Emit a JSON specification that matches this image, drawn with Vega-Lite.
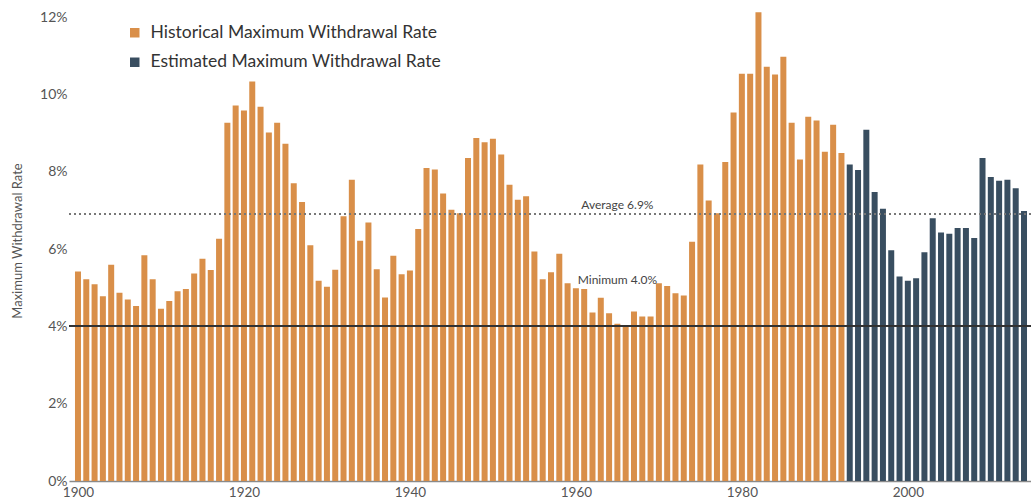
{
  "$schema": "https://vega.github.io/schema/vega-lite/v6.json",
  "width": 962,
  "height": 481,
  "autosize": {"type": "none"},
  "padding": {"left": 69, "top": 0, "right": 0, "bottom": 21},
  "background": "white",
  "config": {
    "view": {"stroke": null},
    "font": "Lato"
  },
  "data": {
    "values": [
      {"year": 1900, "rate": 5.42, "type": "Historical Maximum Withdrawal Rate"},
      {"year": 1901, "rate": 5.22, "type": "Historical Maximum Withdrawal Rate"},
      {"year": 1902, "rate": 5.09, "type": "Historical Maximum Withdrawal Rate"},
      {"year": 1903, "rate": 4.78, "type": "Historical Maximum Withdrawal Rate"},
      {"year": 1904, "rate": 5.60, "type": "Historical Maximum Withdrawal Rate"},
      {"year": 1905, "rate": 4.87, "type": "Historical Maximum Withdrawal Rate"},
      {"year": 1906, "rate": 4.70, "type": "Historical Maximum Withdrawal Rate"},
      {"year": 1907, "rate": 4.53, "type": "Historical Maximum Withdrawal Rate"},
      {"year": 1908, "rate": 5.84, "type": "Historical Maximum Withdrawal Rate"},
      {"year": 1909, "rate": 5.22, "type": "Historical Maximum Withdrawal Rate"},
      {"year": 1910, "rate": 4.46, "type": "Historical Maximum Withdrawal Rate"},
      {"year": 1911, "rate": 4.66, "type": "Historical Maximum Withdrawal Rate"},
      {"year": 1912, "rate": 4.91, "type": "Historical Maximum Withdrawal Rate"},
      {"year": 1913, "rate": 4.97, "type": "Historical Maximum Withdrawal Rate"},
      {"year": 1914, "rate": 5.37, "type": "Historical Maximum Withdrawal Rate"},
      {"year": 1915, "rate": 5.75, "type": "Historical Maximum Withdrawal Rate"},
      {"year": 1916, "rate": 5.46, "type": "Historical Maximum Withdrawal Rate"},
      {"year": 1917, "rate": 6.27, "type": "Historical Maximum Withdrawal Rate"},
      {"year": 1918, "rate": 9.27, "type": "Historical Maximum Withdrawal Rate"},
      {"year": 1919, "rate": 9.72, "type": "Historical Maximum Withdrawal Rate"},
      {"year": 1920, "rate": 9.59, "type": "Historical Maximum Withdrawal Rate"},
      {"year": 1921, "rate": 10.34, "type": "Historical Maximum Withdrawal Rate"},
      {"year": 1922, "rate": 9.69, "type": "Historical Maximum Withdrawal Rate"},
      {"year": 1923, "rate": 9.02, "type": "Historical Maximum Withdrawal Rate"},
      {"year": 1924, "rate": 9.27, "type": "Historical Maximum Withdrawal Rate"},
      {"year": 1925, "rate": 8.73, "type": "Historical Maximum Withdrawal Rate"},
      {"year": 1926, "rate": 7.71, "type": "Historical Maximum Withdrawal Rate"},
      {"year": 1927, "rate": 7.22, "type": "Historical Maximum Withdrawal Rate"},
      {"year": 1928, "rate": 6.10, "type": "Historical Maximum Withdrawal Rate"},
      {"year": 1929, "rate": 5.18, "type": "Historical Maximum Withdrawal Rate"},
      {"year": 1930, "rate": 5.03, "type": "Historical Maximum Withdrawal Rate"},
      {"year": 1931, "rate": 5.47, "type": "Historical Maximum Withdrawal Rate"},
      {"year": 1932, "rate": 6.85, "type": "Historical Maximum Withdrawal Rate"},
      {"year": 1933, "rate": 7.80, "type": "Historical Maximum Withdrawal Rate"},
      {"year": 1934, "rate": 6.22, "type": "Historical Maximum Withdrawal Rate"},
      {"year": 1935, "rate": 6.69, "type": "Historical Maximum Withdrawal Rate"},
      {"year": 1936, "rate": 5.48, "type": "Historical Maximum Withdrawal Rate"},
      {"year": 1937, "rate": 4.75, "type": "Historical Maximum Withdrawal Rate"},
      {"year": 1938, "rate": 5.83, "type": "Historical Maximum Withdrawal Rate"},
      {"year": 1939, "rate": 5.35, "type": "Historical Maximum Withdrawal Rate"},
      {"year": 1940, "rate": 5.45, "type": "Historical Maximum Withdrawal Rate"},
      {"year": 1941, "rate": 6.52, "type": "Historical Maximum Withdrawal Rate"},
      {"year": 1942, "rate": 8.10, "type": "Historical Maximum Withdrawal Rate"},
      {"year": 1943, "rate": 8.06, "type": "Historical Maximum Withdrawal Rate"},
      {"year": 1944, "rate": 7.44, "type": "Historical Maximum Withdrawal Rate"},
      {"year": 1945, "rate": 7.02, "type": "Historical Maximum Withdrawal Rate"},
      {"year": 1946, "rate": 6.93, "type": "Historical Maximum Withdrawal Rate"},
      {"year": 1947, "rate": 8.36, "type": "Historical Maximum Withdrawal Rate"},
      {"year": 1948, "rate": 8.88, "type": "Historical Maximum Withdrawal Rate"},
      {"year": 1949, "rate": 8.77, "type": "Historical Maximum Withdrawal Rate"},
      {"year": 1950, "rate": 8.86, "type": "Historical Maximum Withdrawal Rate"},
      {"year": 1951, "rate": 8.45, "type": "Historical Maximum Withdrawal Rate"},
      {"year": 1952, "rate": 7.67, "type": "Historical Maximum Withdrawal Rate"},
      {"year": 1953, "rate": 7.28, "type": "Historical Maximum Withdrawal Rate"},
      {"year": 1954, "rate": 7.37, "type": "Historical Maximum Withdrawal Rate"},
      {"year": 1955, "rate": 5.94, "type": "Historical Maximum Withdrawal Rate"},
      {"year": 1956, "rate": 5.22, "type": "Historical Maximum Withdrawal Rate"},
      {"year": 1957, "rate": 5.40, "type": "Historical Maximum Withdrawal Rate"},
      {"year": 1958, "rate": 5.88, "type": "Historical Maximum Withdrawal Rate"},
      {"year": 1959, "rate": 5.12, "type": "Historical Maximum Withdrawal Rate"},
      {"year": 1960, "rate": 4.99, "type": "Historical Maximum Withdrawal Rate"},
      {"year": 1961, "rate": 4.97, "type": "Historical Maximum Withdrawal Rate"},
      {"year": 1962, "rate": 4.36, "type": "Historical Maximum Withdrawal Rate"},
      {"year": 1963, "rate": 4.74, "type": "Historical Maximum Withdrawal Rate"},
      {"year": 1964, "rate": 4.34, "type": "Historical Maximum Withdrawal Rate"},
      {"year": 1965, "rate": 4.07, "type": "Historical Maximum Withdrawal Rate"},
      {"year": 1966, "rate": 4.02, "type": "Historical Maximum Withdrawal Rate"},
      {"year": 1967, "rate": 4.39, "type": "Historical Maximum Withdrawal Rate"},
      {"year": 1968, "rate": 4.26, "type": "Historical Maximum Withdrawal Rate"},
      {"year": 1969, "rate": 4.26, "type": "Historical Maximum Withdrawal Rate"},
      {"year": 1970, "rate": 5.12, "type": "Historical Maximum Withdrawal Rate"},
      {"year": 1971, "rate": 5.05, "type": "Historical Maximum Withdrawal Rate"},
      {"year": 1972, "rate": 4.86, "type": "Historical Maximum Withdrawal Rate"},
      {"year": 1973, "rate": 4.80, "type": "Historical Maximum Withdrawal Rate"},
      {"year": 1974, "rate": 6.19, "type": "Historical Maximum Withdrawal Rate"},
      {"year": 1975, "rate": 8.19, "type": "Historical Maximum Withdrawal Rate"},
      {"year": 1976, "rate": 7.26, "type": "Historical Maximum Withdrawal Rate"},
      {"year": 1977, "rate": 6.93, "type": "Historical Maximum Withdrawal Rate"},
      {"year": 1978, "rate": 8.26, "type": "Historical Maximum Withdrawal Rate"},
      {"year": 1979, "rate": 9.54, "type": "Historical Maximum Withdrawal Rate"},
      {"year": 1980, "rate": 10.54, "type": "Historical Maximum Withdrawal Rate"},
      {"year": 1981, "rate": 10.54, "type": "Historical Maximum Withdrawal Rate"},
      {"year": 1982, "rate": 12.13, "type": "Historical Maximum Withdrawal Rate"},
      {"year": 1983, "rate": 10.72, "type": "Historical Maximum Withdrawal Rate"},
      {"year": 1984, "rate": 10.52, "type": "Historical Maximum Withdrawal Rate"},
      {"year": 1985, "rate": 10.98, "type": "Historical Maximum Withdrawal Rate"},
      {"year": 1986, "rate": 9.27, "type": "Historical Maximum Withdrawal Rate"},
      {"year": 1987, "rate": 8.32, "type": "Historical Maximum Withdrawal Rate"},
      {"year": 1988, "rate": 9.43, "type": "Historical Maximum Withdrawal Rate"},
      {"year": 1989, "rate": 9.33, "type": "Historical Maximum Withdrawal Rate"},
      {"year": 1990, "rate": 8.52, "type": "Historical Maximum Withdrawal Rate"},
      {"year": 1991, "rate": 9.22, "type": "Historical Maximum Withdrawal Rate"},
      {"year": 1992, "rate": 8.49, "type": "Historical Maximum Withdrawal Rate"},
      {"year": 1993, "rate": 8.19, "type": "Estimated Maximum Withdrawal Rate"},
      {"year": 1994, "rate": 8.05, "type": "Estimated Maximum Withdrawal Rate"},
      {"year": 1995, "rate": 9.09, "type": "Estimated Maximum Withdrawal Rate"},
      {"year": 1996, "rate": 7.48, "type": "Estimated Maximum Withdrawal Rate"},
      {"year": 1997, "rate": 7.05, "type": "Estimated Maximum Withdrawal Rate"},
      {"year": 1998, "rate": 5.97, "type": "Estimated Maximum Withdrawal Rate"},
      {"year": 1999, "rate": 5.29, "type": "Estimated Maximum Withdrawal Rate"},
      {"year": 2000, "rate": 5.18, "type": "Estimated Maximum Withdrawal Rate"},
      {"year": 2001, "rate": 5.25, "type": "Estimated Maximum Withdrawal Rate"},
      {"year": 2002, "rate": 5.92, "type": "Estimated Maximum Withdrawal Rate"},
      {"year": 2003, "rate": 6.80, "type": "Estimated Maximum Withdrawal Rate"},
      {"year": 2004, "rate": 6.43, "type": "Estimated Maximum Withdrawal Rate"},
      {"year": 2005, "rate": 6.40, "type": "Estimated Maximum Withdrawal Rate"},
      {"year": 2006, "rate": 6.55, "type": "Estimated Maximum Withdrawal Rate"},
      {"year": 2007, "rate": 6.55, "type": "Estimated Maximum Withdrawal Rate"},
      {"year": 2008, "rate": 6.29, "type": "Estimated Maximum Withdrawal Rate"},
      {"year": 2009, "rate": 8.36, "type": "Estimated Maximum Withdrawal Rate"},
      {"year": 2010, "rate": 7.87, "type": "Estimated Maximum Withdrawal Rate"},
      {"year": 2011, "rate": 7.77, "type": "Estimated Maximum Withdrawal Rate"},
      {"year": 2012, "rate": 7.80, "type": "Estimated Maximum Withdrawal Rate"},
      {"year": 2013, "rate": 7.58, "type": "Estimated Maximum Withdrawal Rate"},
      {"year": 2014, "rate": 6.99, "type": "Estimated Maximum Withdrawal Rate"}
    ]
  },
  "layer": [
    {
      "mark": {"type": "bar", "size": 6, "clip": true},
      "encoding": {
        "x": {
          "field": "year",
          "type": "quantitative",
          "scale": {"domain": [1899.52, 2014.24], "nice": false, "zero": false},
          "axis": {
            "values": [1900, 1920, 1940, 1960, 1980, 2000],
            "format": "d",
            "title": null,
            "grid": false,
            "ticks": false,
            "domainColor": "#8a8a8a",
            "domainWidth": 1.5,
            "labelColor": "#555555",
            "labelFontSize": 13.5,
            "labelPadding": 4
          }
        },
        "y": {
          "field": "rate",
          "type": "quantitative",
          "scale": {"domain": [0, 12.45], "nice": false},
          "axis": {
            "values": [0, 2, 4, 6, 8, 10, 12],
            "labelExpr": "datum.value + '%'",
            "title": "Maximum Withdrawal Rate",
            "titleFontSize": 13,
            "titleFontWeight": "normal",
            "titleColor": "#555555",
            "titlePadding": 15,
            "grid": false,
            "ticks": false,
            "domain": false,
            "labelColor": "#555555",
            "labelFontSize": 14,
            "labelPadding": 2
          }
        },
        "color": {
          "field": "type",
          "type": "nominal",
          "scale": {
            "domain": ["Historical Maximum Withdrawal Rate", "Estimated Maximum Withdrawal Rate"],
            "range": ["#D98F49", "#394E60"]
          },
          "legend": {
            "title": null,
            "orient": "none",
            "legendX": 57,
            "legendY": 24,
            "symbolType": "square",
            "symbolSize": 90,
            "symbolStrokeWidth": 0,
            "labelFontSize": 17.5,
            "labelLimit": 500,
            "labelColor": "#333333",
            "labelOffset": 7,
            "rowPadding": 10.5
          }
        }
      }
    },
    {
      "mark": {"type": "rule", "color": "#777777", "strokeDash": [2, 3], "strokeWidth": 1.2},
      "encoding": {"y": {"datum": 6.9}}
    },
    {
      "mark": {"type": "rule", "color": "#333333", "strokeWidth": 1.3},
      "encoding": {"y": {"datum": 4.0}}
    },
    {
      "data": {"values": [{"label": "Average 6.9%", "year": 1965, "level": 7.15}, {"label": "Minimum 4.0%", "year": 1965, "level": 5.2}]},
      "mark": {"type": "text", "fontSize": 12, "color": "#444444", "align": "center", "baseline": "middle"},
      "encoding": {
        "x": {"field": "year", "type": "quantitative"},
        "y": {"field": "level", "type": "quantitative"},
        "text": {"field": "label", "type": "nominal"}
      }
    }
  ]
}
